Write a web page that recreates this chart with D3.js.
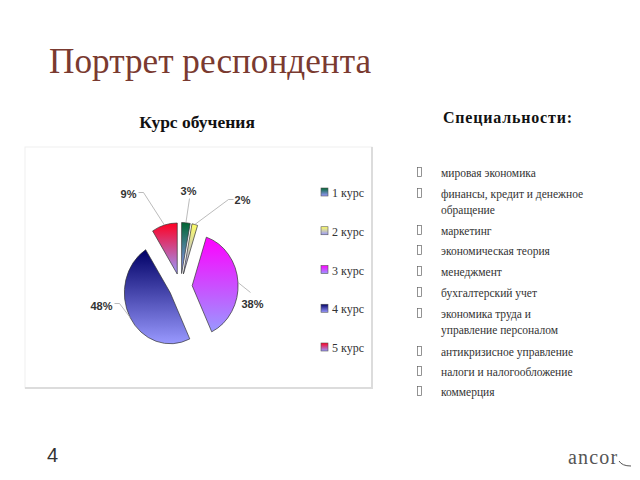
<!DOCTYPE html>
<html><head><meta charset="utf-8">
<script src="https://cdn.jsdelivr.net/npm/d3@7"></script>
<style>body{margin:0;background:#fff}svg{display:block}</style>
</head><body>
<svg id="c" width="640" height="480"></svg>
<script>
// ---- data ----
const courses = ["1 курс","2 курс","3 курс","4 курс","5 курс"];
const shares = [3, 2, 38, 48, 9];
const topColors = ["#006633","#ffff66","#ff00ff","#000066","#ff0022"];
const bottomColor = "#9999ff";
const specialties = [
  ["мировая экономика"],
  ["финансы, кредит и денежное","обращение"],
  ["маркетинг"],
  ["экономическая теория"],
  ["менеджмент"],
  ["бухгалтерский учет"],
  ["экономика труда и","управление персоналом"],
  ["антикризисное управление"],
  ["налоги и налогообложение"],
  ["коммерция"]
];
const titleText = "Портрет респондента";
const chartTitle = "Курс обучения";
const listTitle = "Специальности:";

// ---- drawing ----
const svg = d3.select("#c");
const defs = svg.append("defs");
topColors.forEach((c,i)=>{
  const g = defs.append("linearGradient").attr("id","g"+i)
    .attr("x1",0).attr("y1",0).attr("x2",0).attr("y2",1);
  g.append("stop").attr("offset","0%").attr("stop-color",c);
  g.append("stop").attr("offset","100%").attr("stop-color",bottomColor);
});

svg.append("text").attr("x",49).attr("y",73)
  .attr("font-family","Liberation Serif, serif").attr("font-size",35.2)
  .attr("fill","#7a3a30").text(titleText);

// chart frame
svg.append("rect").attr("x",25).attr("y",147).attr("width",347).attr("height",241)
  .attr("fill","none").attr("stroke","#f0f0f0");
svg.append("path").attr("d","M372,147V388H25").attr("fill","none")
  .attr("stroke","#dcdcdc").attr("stroke-width",2);

svg.append("text").attr("x",197).attr("y",128).attr("text-anchor","middle")
  .attr("font-family","Liberation Serif, serif").attr("font-weight","bold")
  .attr("font-size",17.5).attr("fill","#111").text(chartTitle);

const cx = 180.5, cy = 286.5, R = 51, explode = 13, sx = 0.9;
const pie = d3.pie().sort(null).value(d=>d);
const arcs = pie(shares);
const arc = d3.arc().innerRadius(0).outerRadius(R);
const gp = svg.append("g").attr("transform",`translate(${cx},${cy}) scale(${sx},1)`);
arcs.forEach((a,i)=>{
  const m = (a.startAngle+a.endAngle)/2;
  const dx = explode*Math.sin(m), dy = -explode*Math.cos(m);
  gp.append("path").attr("d",arc(a)).attr("transform",`translate(${dx},${dy})`)
    .attr("fill",`url(#g${i})`).attr("stroke","#333").attr("stroke-width",0.7)
    .attr("vector-effect","non-scaling-stroke");
});

// labels with leader lines (offsets relative to pie center, unscaled)
const gl = svg.append("g").attr("transform",`translate(${cx},${cy})`);
const labelLayout = [
  {t:[8,-96], elbow:[9,-88]},
  {t:[62,-87], elbow:[48,-87], end:[53,-87]},
  {t:[72,17], elbow:[70,6]},
  {t:[-79,19], elbow:[-61,17], end:[-66,17]},
  {t:[-52,-93], elbow:[-37,-94], end:[-42,-94]}
];
arcs.forEach((a,i)=>{
  const m = (a.startAngle+a.endAngle)/2;
  const ax = sx*(explode+R)*Math.sin(m), ay = -(explode+R)*Math.cos(m);
  const L = labelLayout[i];
  const pts = [[ax,ay],L.elbow]; if(L.end) pts.push(L.end);
  gl.append("path").attr("d",d3.line()(pts)).attr("fill","none")
    .attr("stroke","#aaa").attr("stroke-width",0.8);
  gl.append("text").attr("x",L.t[0]).attr("y",L.t[1]+4).attr("text-anchor","middle")
    .attr("font-family","Liberation Sans, Arial, sans-serif").attr("font-weight","bold")
    .attr("font-size",11).attr("fill","#333").text(shares[i]+"%");
});

// legend
const ly = d3.scalePoint().domain(courses).range([193,348]);
courses.forEach((c,i)=>{
  const y = ly(c);
  svg.append("rect").attr("x",321).attr("y",y-5).attr("width",7).attr("height",8)
    .attr("fill",`url(#g${i})`).attr("stroke","#555").attr("stroke-width",0.6);
  svg.append("text").attr("x",332).attr("y",y+4)
    .attr("font-family","Liberation Serif, serif").attr("font-size",12)
    .attr("fill","#333").text(c);
});

// specialties
svg.append("text").attr("x",443).attr("y",123)
  .attr("font-family","Liberation Serif, serif").attr("font-weight","bold")
  .attr("font-size",16).attr("letter-spacing",0.8).attr("fill","#111").text(listTitle);
const baseY = [177,198,235,255,276,297,318,356,376,396];
specialties.forEach((lines,i)=>{
  const y = baseY[i];
  svg.append("rect").attr("x",417.5).attr("y",y-9.5).attr("width",4).attr("height",9)
    .attr("fill","none").attr("stroke","#666").attr("stroke-width",0.7);
  lines.forEach((ln,j)=>{
    svg.append("text").attr("x",441).attr("y",y+j*16)
      .attr("font-family","Liberation Serif, serif").attr("font-size",11.5)
      .attr("fill","#333").text(ln);
  });
});

// footer
svg.append("text").attr("x",47).attr("y",462)
  .attr("font-family","Liberation Sans, Arial, sans-serif").attr("font-size",20)
  .attr("fill","#333").text("4");
svg.append("text").attr("x",568).attr("y",464)
  .attr("font-family","Liberation Serif, serif").attr("font-size",20)
  .attr("letter-spacing",1.2).attr("fill","#555").text("ancor");
svg.append("path").attr("d","M619,461 Q622,466 631,466").attr("fill","none")
  .attr("stroke","#555").attr("stroke-width",1);
</script>
</body></html>
